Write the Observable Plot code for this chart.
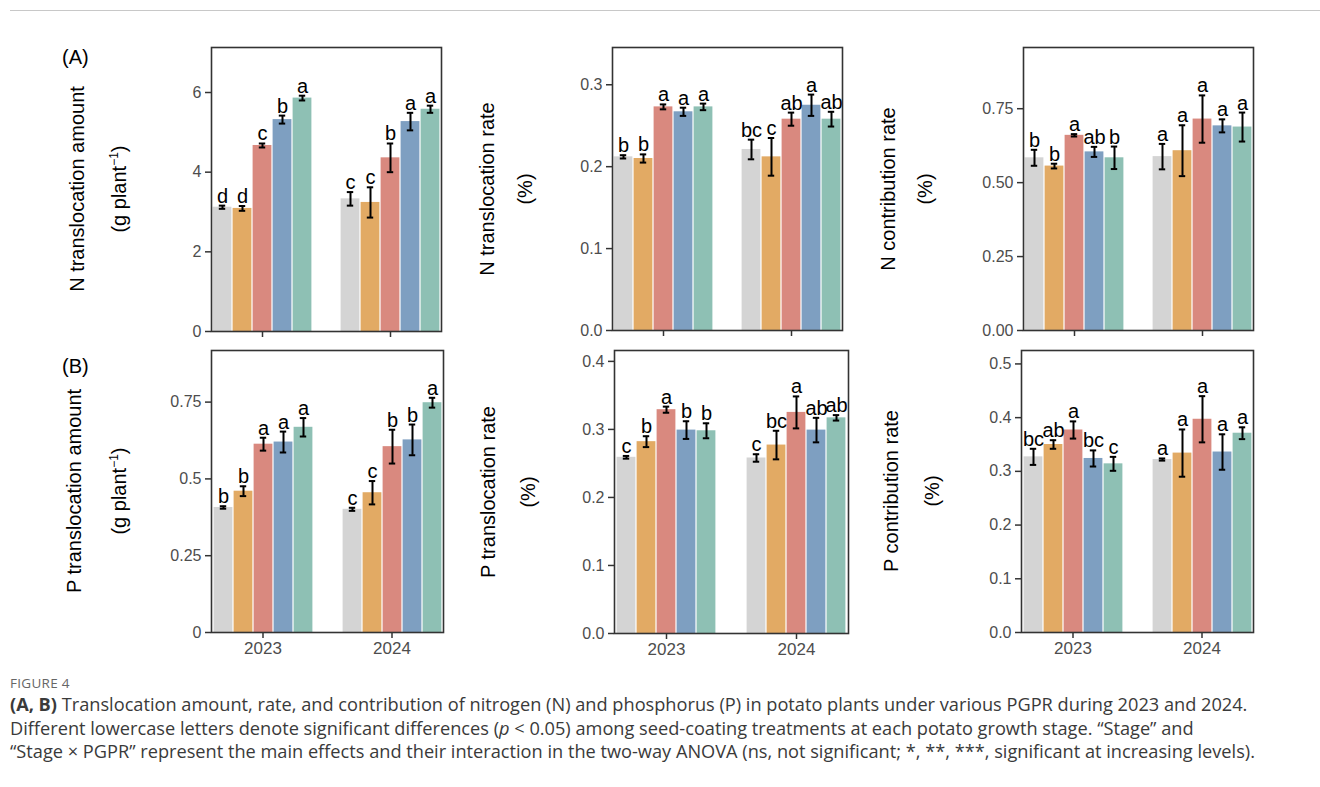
<!DOCTYPE html>
<html>
<head>
<meta charset="utf-8">
<script src="https://cdn.jsdelivr.net/npm/d3@7"></script>
<script src="https://cdn.jsdelivr.net/npm/@observablehq/plot@0.6"></script>
<style>
  html, body { margin: 0; padding: 0; background: #fff; }
  #root { position: relative; width: 1320px; height: 787px; overflow: hidden; background: #fff;
          font-family: "Liberation Sans", Arial, sans-serif; }
  .panel { position: absolute; }
  .ytitle { position: absolute; width: 400px; height: 24px; line-height: 24px; text-align: center;
            font-size: 20px; color: #000; transform: rotate(-90deg); white-space: nowrap; }
  .tag { position: absolute; font-size: 20px; color: #000; }
  .cap { position: absolute; left: 10px; font-family: "Open Sans", sans-serif; color: #3a3a3a;
         white-space: nowrap; font-size: 18.2px; line-height: 23.5px; }
  .fig { position: absolute; left: 10px; font-family: "Open Sans", sans-serif; color: #666;
         font-size: 13.5px; line-height: 16px; letter-spacing: 0.3px; }
  .hline { position: absolute; background: #c8c8c8; }
</style>
</head>
<body>
<div id="root"></div>
<script>
// ---------------- data ----------------
const years = ["2023", "2024"];
const treatments = ["CK", "PGPR1", "PGPR2", "PGPR3", "PGPR4"];
const barColors = ["#d4d4d4", "#e2aa64", "#d9897f", "#7e9fc1", "#8ec0b4"];

// N translocation amount (g plant-1)
const nAmountMean = [[3.12, 3.09, 4.67, 5.32, 5.86], [3.33, 3.24, 4.36, 5.27, 5.58]];
const nAmountSE   = [[0.04, 0.06, 0.05, 0.10, 0.06], [0.17, 0.38, 0.36, 0.22, 0.09]];
const nAmountLet  = [["d", "d", "c", "b", "a"], ["c", "c", "b", "a", "a"]];
const nAmountTicks = [0, 2, 4, 6];
const nAmountTickLabels = ["0", "2", "4", "6"];

// N translocation rate (%)
const nRateMean = [[0.212, 0.210, 0.273, 0.267, 0.273], [0.221, 0.212, 0.258, 0.275, 0.258]];
const nRateSE   = [[0.002, 0.005, 0.003, 0.005, 0.004], [0.012, 0.023, 0.008, 0.013, 0.009]];
const nRateLet  = [["b", "b", "a", "a", "a"], ["bc", "c", "ab", "a", "ab"]];
const nRateTicks = [0, 0.1, 0.2, 0.3];
const nRateTickLabels = ["0.0", "0.1", "0.2", "0.3"];

// N contribution rate (%)
const nContMean = [[0.584, 0.556, 0.660, 0.604, 0.584], [0.588, 0.608, 0.715, 0.692, 0.688]];
const nContSE   = [[0.027, 0.008, 0.004, 0.017, 0.038], [0.043, 0.086, 0.080, 0.022, 0.049]];
const nContLet  = [["b", "b", "a", "ab", "b"], ["a", "a", "a", "a", "a"]];
const nContTicks = [0, 0.25, 0.5, 0.75];
const nContTickLabels = ["0.00", "0.25", "0.50", "0.75"];

// P translocation amount (g plant-1)
const pAmountMean = [[0.407, 0.460, 0.613, 0.620, 0.668], [0.401, 0.455, 0.605, 0.627, 0.748]];
const pAmountSE   = [[0.004, 0.016, 0.021, 0.034, 0.030], [0.005, 0.038, 0.055, 0.050, 0.016]];
const pAmountLet  = [["b", "b", "a", "a", "a"], ["c", "c", "b", "b", "a"]];
const pAmountTicks = [0, 0.25, 0.5, 0.75];
const pAmountTickLabels = ["0", "0.25", "0.5", "0.75"];

// P translocation rate (%)
const pRateMean = [[0.259, 0.282, 0.329, 0.299, 0.298], [0.258, 0.277, 0.325, 0.299, 0.317]];
const pRateSE   = [[0.002, 0.008, 0.0045, 0.013, 0.011], [0.0055, 0.021, 0.0235, 0.018, 0.004]];
const pRateLet  = [["c", "b", "a", "b", "b"], ["c", "bc", "a", "ab", "ab"]];
const pRateTicks = [0, 0.1, 0.2, 0.3, 0.4];
const pRateTickLabels = ["0.0", "0.1", "0.2", "0.3", "0.4"];

// P contribution rate (%)
const pContMean = [[0.327, 0.350, 0.377, 0.324, 0.314], [0.322, 0.334, 0.397, 0.336, 0.371]];
const pContSE   = [[0.015, 0.008, 0.016, 0.015, 0.013], [0.002, 0.044, 0.043, 0.033, 0.011]];
const pContLet  = [["bc", "ab", "a", "bc", "c"], ["a", "a", "a", "a", "a"]];
const pContTicks = [0, 0.1, 0.2, 0.3, 0.4, 0.5];
const pContTickLabels = ["0.0", "0.1", "0.2", "0.3", "0.4", "0.5"];

// ---------------- layout ----------------
const panels = [
  {mean: nAmountMean, se: nAmountSE, let: nAmountLet, ticks: nAmountTicks, labels: nAmountTickLabels, ymax: 7.13,
   box: [185, 47, 468, 331], years: false, t1: "N translocation amount", t2: "(g plant<sup style='font-size:12px'>−1</sup>)", tx: [77, 114]},
  {mean: nRateMean, se: nRateSE, let: nRateLet, ticks: nRateTicks, labels: nRateTickLabels, ymax: 0.3455,
   box: [586, 47, 868, 330], years: false, t1: "N translocation rate", t2: "(%)", tx: [487, 525]},
  {mean: nContMean, se: nContSE, let: nContLet, ticks: nContTicks, labels: nContTickLabels, ymax: 0.957,
   box: [997, 47, 1280, 330], years: false, t1: "N contribution rate", t2: "(%)", tx: [888, 925]},
  {mean: pAmountMean, se: pAmountSE, let: pAmountLet, ticks: pAmountTicks, labels: pAmountTickLabels, ymax: 0.918,
   box: [185, 350, 470, 632], years: true, t1: "P translocation amount", t2: "(g plant<sup style='font-size:12px'>−1</sup>)", tx: [74, 114]},
  {mean: pRateMean, se: pRateSE, let: pRateLet, ticks: pRateTicks, labels: pRateTickLabels, ymax: 0.416,
   box: [587, 350, 875, 633], years: true, t1: "P translocation rate", t2: "(%)", tx: [488, 528]},
  {mean: pContMean, se: pContSE, let: pContLet, ticks: pContTicks, labels: pContTickLabels, ymax: 0.525,
   box: [995, 350, 1280, 632], years: true, t1: "P contribution rate", t2: "(%)", tx: [891, 932]}
];

const rootEl = document.getElementById("root");
const mL = 60, mR = 12, mT = 12, mB = 32;

function makePanel(p) {
  const rows = [];
  years.forEach((yr, i) => treatments.forEach((t, j) => rows.push({
    year: yr, trt: t, mean: p.mean[i][j], se: p.se[i][j], letter: p.let[i][j]
  })));
  const [x0, y0, x1, y1] = p.box;
  const W = x1 - x0, H = y1 - y0;
  const chart = Plot.plot({
    width: W + mL + mR,
    height: H + mT + mB,
    marginLeft: mL, marginRight: mR, marginTop: mT, marginBottom: mB,
    style: {fontFamily: "'Liberation Sans', Arial, sans-serif", fontSize: "16px", color: "#4d4d4d",
            background: "transparent", overflow: "visible"},
    fx: {domain: years, paddingInner: 0.2, paddingOuter: 0.2},
    x: {domain: treatments, padding: 0, axis: null},
    y: {domain: [0, p.ymax]},
    color: {domain: treatments, range: barColors},
    marks: [
      Plot.barY(rows, {fx: "year", x: "trt", y: "mean", fill: "trt", insetLeft: 0.6, insetRight: 0.6}),
      Plot.ruleX(rows, {fx: "year", x: "trt", y1: d => d.mean - d.se, y2: d => d.mean + d.se,
                        stroke: "#000", strokeWidth: 2}),
      Plot.tickY(rows, {fx: "year", x: "trt", y: d => d.mean + d.se, stroke: "#000", strokeWidth: 2,
                        insetLeft: 6.8, insetRight: 6.8}),
      Plot.tickY(rows, {fx: "year", x: "trt", y: d => d.mean - d.se, stroke: "#000", strokeWidth: 2,
                        insetLeft: 6.8, insetRight: 6.8}),
      Plot.text(rows, {fx: "year", x: "trt", y: d => d.mean + d.se, text: "letter", lineAnchor: "bottom",
                       dy: -3, fontSize: 20, fill: "#000"}),
      Plot.axisY({ticks: p.ticks, tickFormat: d => p.labels[p.ticks.indexOf(d)], tickSize: 6, tickPadding: 4,
                  label: null, stroke: "#333", strokeWidth: 1.5, fill: "#4d4d4d", fontSize: 16}),
      Plot.axisFx({anchor: "bottom", tickSize: 6, tickPadding: 3, label: null, stroke: "#333", strokeWidth: 1.5,
                   fill: "#4d4d4d", fontSize: 17, tickFormat: p.years ? (d => d) : (() => "")}),
      Plot.frame({facet: "super", stroke: "#333", strokeWidth: 1.6})
    ]
  });
  const holder = document.createElement("div");
  holder.className = "panel";
  holder.style.left = (x0 - mL) + "px";
  holder.style.top = (y0 - mT) + "px";
  holder.appendChild(chart);
  rootEl.appendChild(holder);

  const cy = (y0 + y1) / 2;
  [p.t1, p.t2].forEach((t, k) => {
    const d = document.createElement("div");
    d.className = "ytitle";
    d.innerHTML = t;
    d.style.left = (p.tx[k] - 200) + "px";
    d.style.top = (cy - 12) + "px";
    rootEl.appendChild(d);
  });
}
panels.forEach(makePanel);

// panel tags
[["(A)", 62, 46], ["(B)", 62, 355]].forEach(([t, x, y]) => {
  const d = document.createElement("div");
  d.className = "tag"; d.textContent = t;
  d.style.left = x + "px"; d.style.top = y + "px";
  rootEl.appendChild(d);
});

// frame line of the page
const topLine = document.createElement("div");
topLine.className = "hline";
topLine.style.left = "10px"; topLine.style.top = "10px"; topLine.style.width = "1310px"; topLine.style.height = "1px";
rootEl.appendChild(topLine);

// caption
const fig = document.createElement("div");
fig.className = "fig"; fig.textContent = "FIGURE 4";
fig.style.top = "675px";
rootEl.appendChild(fig);
const capLines = [
  "<b>(A, B)</b> Translocation amount, rate, and contribution of nitrogen (N) and phosphorus (P) in potato plants under various PGPR during 2023 and 2024.",
  "Different lowercase letters denote significant differences (<i>p</i> &lt; 0.05) among seed-coating treatments at each potato growth stage. “Stage” and",
  "“Stage × PGPR” represent the main effects and their interaction in the two-way ANOVA (ns, not significant; *, **, ***, significant at increasing levels)."
];
capLines.forEach((t, i) => {
  const d = document.createElement("div");
  d.className = "cap"; d.innerHTML = t;
  d.style.top = (693 + i * 23.5) + "px";
  rootEl.appendChild(d);
});
</script>
</body>
</html>
